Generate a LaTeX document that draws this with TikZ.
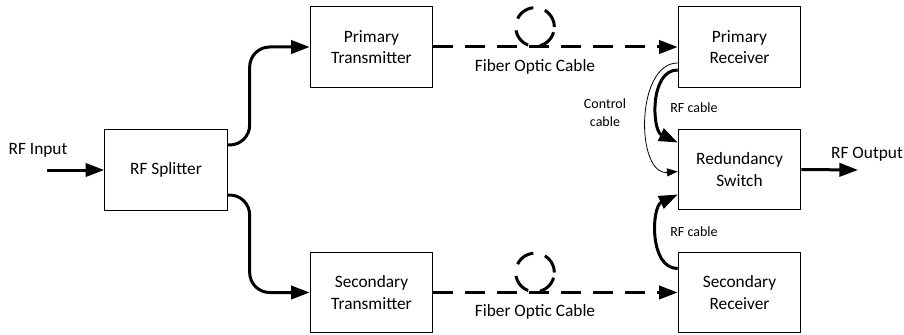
\documentclass[tikz,border=0pt]{standalone}
\usepackage{fontspec}
\setmainfont{Carlito}
\usepackage{tikz}
\usetikzlibrary{positioning,arrows.meta,calc}

\begin{document}
\begin{tikzpicture}[x=0.75pt, y=-0.75pt, >={Triangle[length=14pt,width=10pt]},
  box/.style={draw, line width=0.75pt, minimum width=92pt, minimum height=60.5pt, align=center, font=\fontsize{13}{16}\selectfont},
  lbl/.style={font=\fontsize{13}{15}\selectfont},
  small/.style={font=\fontsize{10.5}{13.5}\selectfont, align=center},
  rf/.style={->, line width=2.25pt},
  fiber/.style={->, line width=2.25pt, dash pattern=on 15pt off 9pt},
  ctrl/.style={-{Triangle[length=8pt,width=6pt]}, line width=0.6pt}]
\useasboundingbox (0,0) rectangle (904,335);

% boxes
\node[box] (split) at (166,170) {RF Splitter};
\node[box] (ptx) at (371.5,47) {Primary\\Transmitter};
\node[box] (stx) at (371.5,292.5) {Secondary\\Transmitter};
\node[box] (prx) at (739.5,47) {Primary\\Receiver};
\node[box] (sw) at (739.5,169.5) {Redundancy\\Switch};
\node[box] (srx) at (739.5,292.5) {Secondary\\Receiver};

% input and output
\coordinate (in) at (47,170);
\coordinate (out) at (858,170);
\node[lbl] (inlbl) at (38,150) {RF Input};
\node[lbl] (outlbl) at (867,154) {RF Output};
\draw[rf] (in) -- (split.west);
\draw[rf] (sw.east) -- (out);

% splitter to transmitters
\draw[rf, rounded corners=15pt] ($(split.east)+(0,-25)$) -| ($(ptx.west)+(-60,0)$) -- (ptx.west);
\draw[rf, rounded corners=15pt] ($(split.east)+(0,25)$) -| ($(stx.west)+(-60,0)$) -- (stx.west);

% fiber links
\coordinate (loopA) at (535,27);
\coordinate (loopB) at (535,272.5);
\draw[fiber] (ptx.east) -- (prx.west);
\draw[fiber] (stx.east) -- (srx.west);
\draw[line width=2.25pt, dash pattern=on 15pt off 9pt] (loopA) circle[radius=14.5pt];
\draw[line width=2.25pt, dash pattern=on 15pt off 9pt] (loopB) circle[radius=14.5pt];
\node[lbl] (fibA) at (535,67) {Fiber Optic Cable};
\node[lbl] (fibB) at (535,312) {Fiber Optic Cable};

% receivers to switch
\draw[ctrl] ($(prx.west)+(0,16)$) to[out=180, in=185] ($(sw.west)+(0,2)$);
\draw[rf] ($(prx.west)+(0,23)$) to[out=180, in=155] ($(sw.west)+(0,-27)$);
\draw[rf] ($(srx.west)+(0,-24)$) to[out=180, in=205] ($(sw.west)+(0,25)$);
\node[small] (rfA) at (694,108) {RF cable};
\node[small] (rfB) at (694,232) {RF cable};
\node[small] (ctl) at (605,113) {Control\\cable};
\end{tikzpicture}
\end{document}
